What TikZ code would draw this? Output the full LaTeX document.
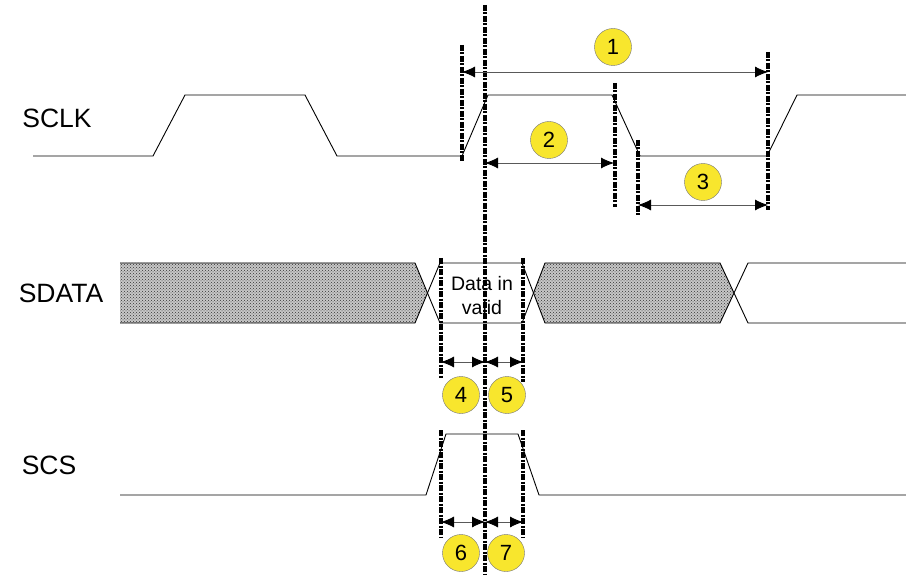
\documentclass[tikz,border=0pt]{standalone}
\usepackage{fontspec}
\setmainfont{Liberation Sans}
\usetikzlibrary{arrows.meta,patterns}

\definecolor{badgeyellow}{RGB}{248,230,45}

\tikzset{
  wave/.style={line width=0.9pt},
  markline/.style={line width=3.4pt,dash pattern=on 6pt off 1.5pt on 2pt off 1.5pt},
  dimline/.style={line width=0.8pt,draw=black!65,
    {Latex[length=13pt,width=11pt,black]}-{Latex[length=13pt,width=11pt,black]}},
  badge/.style={circle,draw=black!55,fill=badgeyellow,minimum size=37pt,
    inner sep=0pt,font=\fontsize{22}{22}\selectfont},
  signame/.style={font=\fontsize{26.5}{26.5}\selectfont},
  hatch/.style={fill=black!22,postaction={pattern=crosshatch dots,pattern color=black!80}}
}

\begin{document}
\begin{tikzpicture}[x=1pt,y=-1pt]
  \useasboundingbox (0,0) rectangle (906,575);

  % signal names
  \node[signame] (sclk)  at (57,118) {SCLK};
  \node[signame] (sdata) at (61,293) {SDATA};
  \node[signame] (scs)   at (49,465) {SCS};

  % SCLK
  \draw[wave]
    (33,156) -- (153,156) -- (185,95) -- (305,95) -- (337,156)
    -- (462,156) -- (488,95) -- (612,95) -- (640,156)
    -- (767,156) -- (797,95) -- (906,95);

  % SDATA
  \path[hatch]
    (120,263) -- (415,263) -- (427.5,293) -- (415,323) -- (120,323) -- cycle;
  \path[hatch]
    (545,263) -- (720,263) -- (734,293) -- (720,323) -- (545,323) -- (533.5,293) -- cycle;
  \draw[wave] (120,263) -- (415,263) -- (440,323) -- (522,323) -- (545,263)
    -- (720,263) -- (748,323) -- (906,323);
  \draw[wave] (120,323) -- (415,323) -- (440,263) -- (522,263) -- (545,323)
    -- (720,323) -- (748,263) -- (906,263);
  \node[align=center,font=\fontsize{19.5}{24}\selectfont] (valid) at (482,296)
    {Data in\\valid};

  % SCS
  \draw[wave]
    (120,495) -- (426,495) -- (446,434) -- (518,434) -- (539,495) -- (906,495);

  % timing marks
  \draw[markline] (485,5) -- (485,575);
  \draw[markline] (462,45) -- (462,162);
  \draw[markline] (615,83) -- (615,207);
  \draw[markline] (638,140) -- (638,215);
  \draw[markline] (768,52) -- (768,210);
  \draw[markline] (441,258) -- (441,378);
  \draw[markline] (523,258) -- (523,382);
  \draw[markline] (441,430) -- (441,537);
  \draw[markline] (523,430) -- (523,537);

  % arrow ends
  \coordinate (t1a) at (462,72);  \coordinate (t1b) at (768,72);
  \coordinate (t2a) at (485,163); \coordinate (t2b) at (614,163);
  \coordinate (t3a) at (638,205); \coordinate (t3b) at (768,205);
  \coordinate (t4a) at (441,362); \coordinate (t4b) at (485,362);
  \coordinate (t5b) at (523,362);
  \coordinate (t6a) at (441,522); \coordinate (t6b) at (485,522);
  \coordinate (t7b) at (523,522);

  \draw[dimline] (t1a) -- (t1b);
  \draw[dimline] (t2a) -- (t2b);
  \draw[dimline] (t3a) -- (t3b);
  \draw[dimline] (t4a) -- (t4b);
  \draw[dimline] (t4b) -- (t5b);
  \draw[dimline] (t6a) -- (t6b);
  \draw[dimline] (t6b) -- (t7b);

  % numbered badges
  \node[badge] (n1) at (613,47)  {1};
  \node[badge] (n2) at (549,140) {2};
  \node[badge] (n3) at (703,182) {3};
  \node[badge] (n4) at (461,395) {4};
  \node[badge] (n5) at (507,395) {5};
  \node[badge] (n6) at (461,553) {6};
  \node[badge] (n7) at (506,553) {7};
\end{tikzpicture}
\end{document}
